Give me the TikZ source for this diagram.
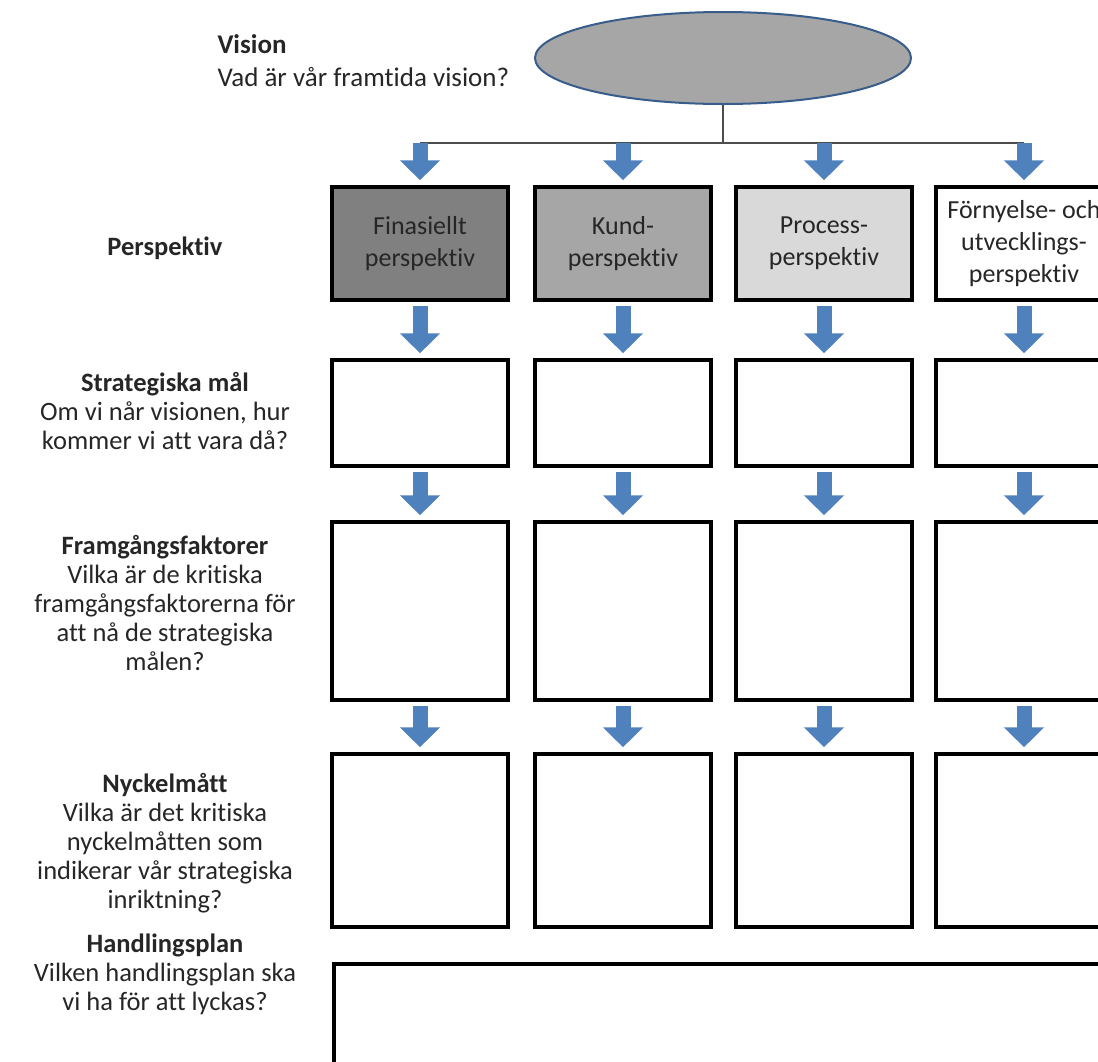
\documentclass[tikz,border=0pt]{standalone}
\usepackage{fontspec}
\setmainfont[Ligatures=NoCommon]{Carlito}
\usepackage{tikz}
\usetikzlibrary{shapes.geometric,arrows.meta}

\definecolor{ArrowBlue}{HTML}{4F81BD}
\definecolor{VisionGray}{HTML}{A6A6A6}
\definecolor{VisionLine}{HTML}{385D8A}
\definecolor{TextGray}{HTML}{262626}

\tikzset{
  perbox/.style={draw=black, line width=3.5pt, minimum width=176pt, minimum height=#1,
    inner sep=0pt, align=center, text=TextGray, font=\fontsize{26}{32}\selectfont},
  blockarrow/.style={draw=ArrowBlue, line width=15pt, shorten <=4pt, shorten >=5pt,
    -{Triangle[width=39pt,length=20pt]}},
  rowtext/.style={align=center, text=TextGray, font=\fontsize{26.5}{29}\selectfont},
  busline/.style={draw=black!70, line width=1.5pt}
}

\begin{document}
\begin{tikzpicture}[x=1pt,y=-1pt]
	\useasboundingbox (0,0) rectangle (1098,1061);
	\clip (0,0) rectangle (1098,1061);

	% vision
	\node[ellipse, draw=VisionLine, fill=VisionGray, line width=2pt,
		minimum width=376pt, minimum height=92pt] (vision) at (723,58) {};
	\node[anchor=west, align=left, text=TextGray, font=\fontsize{27}{33}\selectfont]
		(visiontxt) at (214,61) {\textbf{Vision}\\Vad är vår framtida vision?};

	% left column
	\node[rowtext] (lblpersp) at (165,248) {\textbf{Perspektiv}};
	\node[rowtext] (lblstrat) at (165,411) {\textbf{Strategiska mål}\\Om vi når visionen, hur\\kommer vi att vara då?};
	\node[rowtext] (lblframg) at (165,603) {\textbf{Framgångsfaktorer}\\Vilka är de kritiska\\framgångsfaktorerna för\\att nå de strategiska\\målen?};
	\node[rowtext] (lblnyck) at (165,843) {\textbf{Nyckelmått}\\Vilka är det kritiska\\nyckelmåtten som\\indikerar vår strategiska\\inriktning?};
	\node[rowtext] (lblhand) at (165,974) {\textbf{Handlingsplan}\\Vilken handlingsplan ska\\vi ha för att lyckas?};

	% boxes
	\foreach \c/\x/\fc/\txt in {1/420/black!50/{Finasiellt\\perspektiv},
			2/623/black!35/{Kund-\\perspektiv},
			3/824/black!15/{Process-\\perspektiv},
			4/1024/white/{Förnyelse- och\\utvecklings-\\perspektiv}} {
		\node[perbox=113pt, fill=\fc] (p\c) at (\x,243.5) {\txt};
		\node[perbox=106pt] (s\c) at (\x,413) {};
		\node[perbox=178pt] (f\c) at (\x,611) {};
		\node[perbox=173pt] (n\c) at (\x,840.5) {};
	}
	\node[perbox=140pt, minimum width=780pt, anchor=north west] (hplan) at (332,962) {};

	% connectors
	\draw[busline] (vision.south) -- ++(0,38) coordinate (split);
	\draw[busline] (split -| p1.north) -- (split -| p4.north);
	\foreach \c in {1,...,4} {
		\draw[blockarrow, shorten <=0pt] (split -| p\c.north) -- (p\c.north);
		\draw[blockarrow] (p\c.south) -- (s\c.north);
		\draw[blockarrow] (s\c.south) -- (f\c.north);
		\draw[blockarrow] (f\c.south) -- (n\c.north);
	}
\end{tikzpicture}
\end{document}
